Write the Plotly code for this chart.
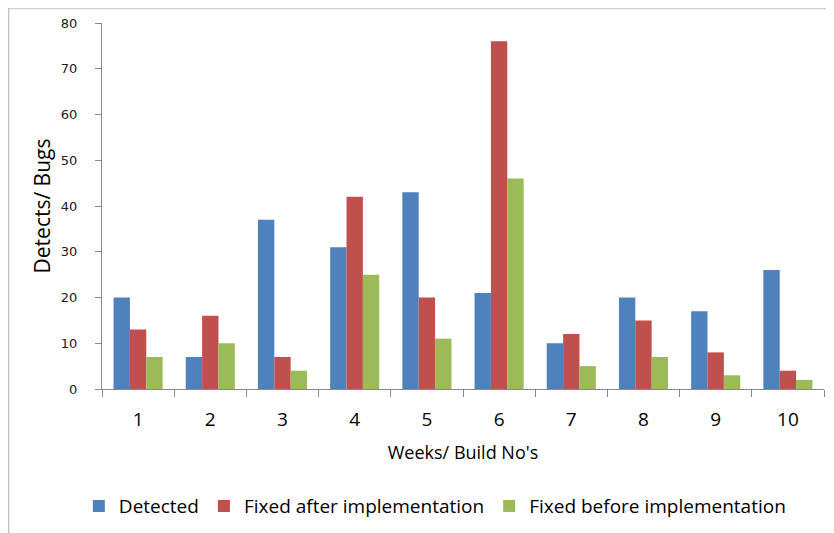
import plotly.graph_objects as go

weeks = ["1", "2", "3", "4", "5", "6", "7", "8", "9", "10"]
detected = [20, 7, 37, 31, 43, 21, 10, 20, 17, 26]
fixed_after = [13, 16, 7, 42, 20, 76, 12, 15, 8, 4]
fixed_before = [7, 10, 4, 25, 11, 46, 5, 7, 3, 2]

series = [
    ("Detected", detected, "#4F81BD"),
    ("Fixed after implementation", fixed_after, "#C0504D"),
    ("Fixed before implementation", fixed_before, "#9BBB59"),
]

fig = go.Figure()
for name, vals, col in series:
    fig.add_trace(go.Bar(x=weeks, y=vals, name=name, marker=dict(color=col, line=dict(width=0))))

# the page body adds an 8px offset, margins compensate for it
W, H = 834, 533
L, R, T, B = 94, 18, 15, 152
pw, ph = W - L - R, H - T - B

FONT = "Open Sans, Lato, sans-serif"

fig.update_layout(
    width=W, height=H,
    margin=dict(l=L, r=R, t=T, b=B, autoexpand=False),
    paper_bgcolor="white", plot_bgcolor="white",
    barmode="group", bargap=0.32, bargroupgap=0,
    font=dict(family=FONT, color="#000000"),
    legend=dict(orientation="h", x=0.461, xanchor="center", y=-0.32, yanchor="middle",
                font=dict(size=19, family=FONT), itemwidth=30,
                traceorder="normal"),
    xaxis=dict(
        automargin=False,
        showline=True, linecolor="#888888", linewidth=1,
        ticks="outside", ticklen=7, tickcolor="#888888",
        tickson="boundaries",
        tickfont=dict(size=19, family=FONT),
        ticklabelstandoff=13,
        title=dict(text="Weeks/ Build No's", font=dict(size=18, family=FONT), standoff=15),
        showgrid=False,
    ),
    yaxis=dict(
        automargin=False,
        range=[0, 80], dtick=10,
        showline=True, linecolor="#888888", linewidth=1,
        ticks="outside", ticklen=6, tickcolor="#888888",
        tickfont=dict(size=13, family="DejaVu Sans, sans-serif", color="#1a1a1a"),
        ticklabelstandoff=15,
        title=dict(text="Detects/ Bugs", font=dict(size=21, family=FONT), standoff=4),
        showgrid=False, zeroline=False,
    ),
    showlegend=True,
)

# outer chart-area border (top and left edges visible)
fig.add_shape(type="line", xref="paper", yref="paper",
              x0=(0 - L) / pw, x1=(W - L) / pw, y0=(H - B - 0.5) / ph, y1=(H - B - 0.5) / ph,
              line=dict(color="#D0D0D0", width=1.5))
fig.add_shape(type="line", xref="paper", yref="paper",
              x0=(0.5 - L) / pw, x1=(0.5 - L) / pw, y0=(H - B) / ph, y1=(-B) / ph,
              line=dict(color="#C0C0C0", width=1.5))

fig.write_html("out.html")
